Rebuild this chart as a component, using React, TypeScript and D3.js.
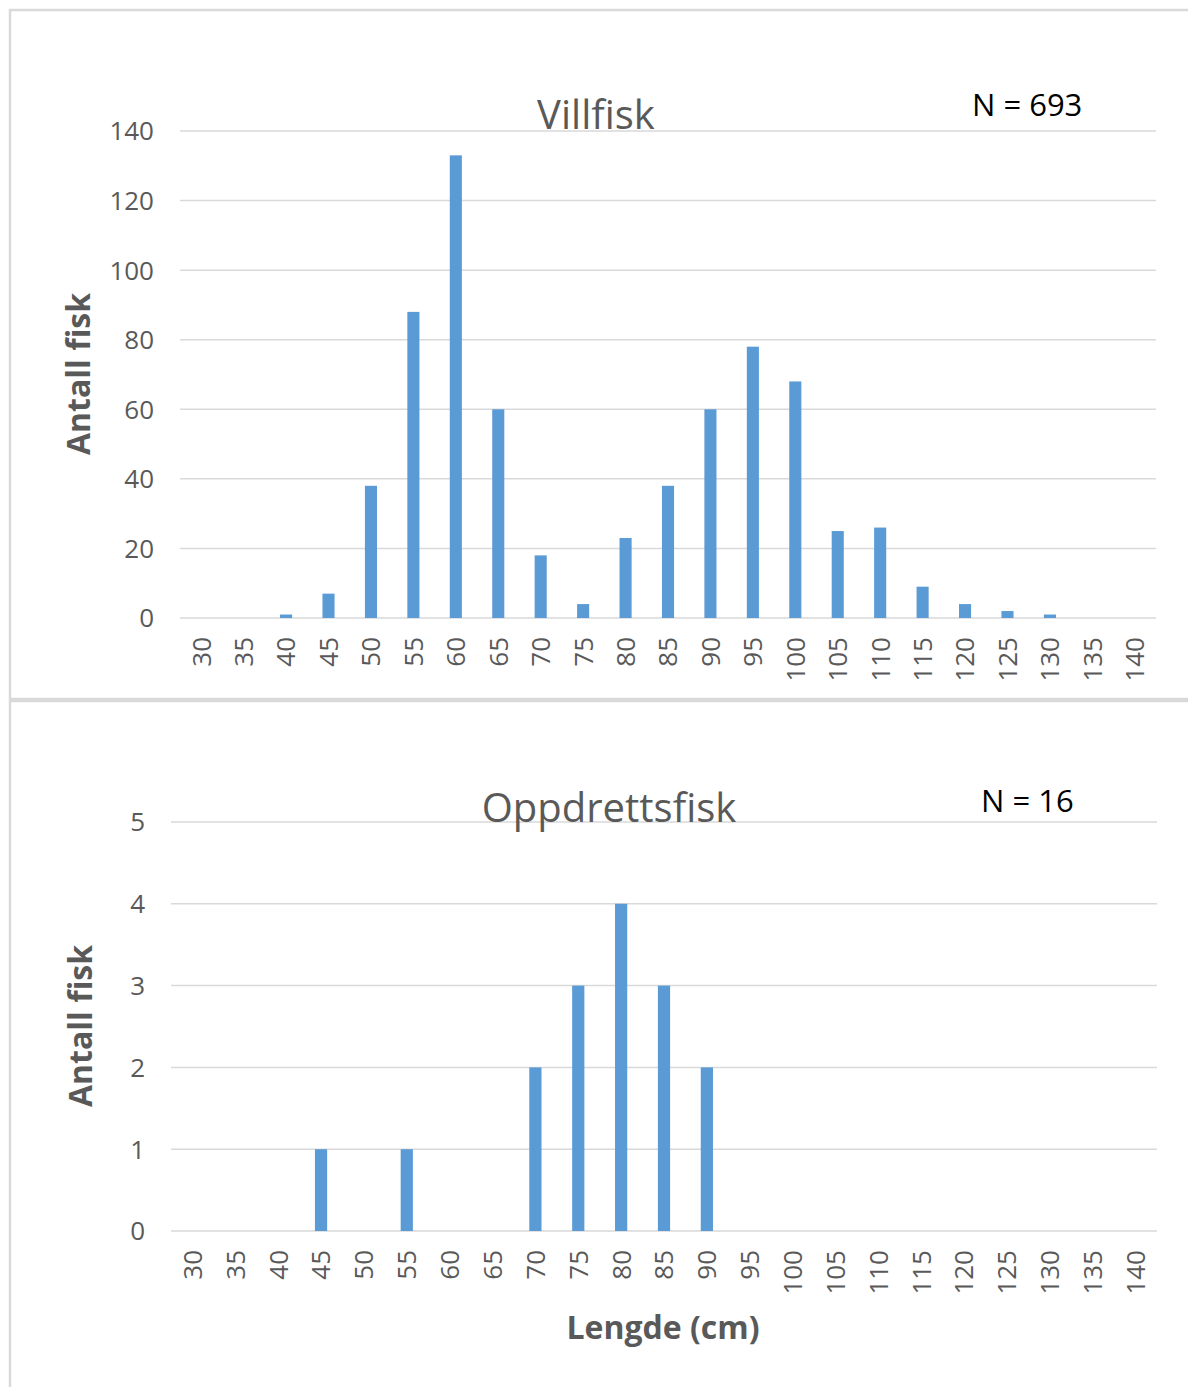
import React from "react";
import * as d3 from "d3";

const lengths = ["30","35","40","45","50","55","60","65","70","75","80","85","90","95","100","105","110","115","120","125","130","135","140"];
const villfiskCounts = [0,0,1,7,38,88,133,60,18,4,23,38,60,78,68,25,26,9,4,2,1,0,0];
const oppdrettCounts = [0,0,0,1,0,1,0,0,2,3,4,3,2,0,0,0,0,0,0,0,0,0,0];
const villfiskTicks = [0,20,40,60,80,100,120,140];
const oppdrettTicks = [0,1,2,3,4,5];

const FONT = "'Open Sans', sans-serif";
const BAR = "#5B9BD5";
const GRID = "#D9D9D9";
const TXT = "#595959";

type PanelProps = {
  values: number[];
  ticks: number[];
  yMax: number;
  x0: number; x1: number; yTop: number; yBottom: number;
  tickRight: number;
  title: string; titleX: number; titleY: number;
  nText: string; nX: number; nY: number;
  yTitleX: number; yTitleY: number;
  xLabelTop: number;
};

function Panel(p: PanelProps) {
  const x = d3.scaleBand<string>().domain(lengths).range([p.x0, p.x1]).paddingInner(0.715).paddingOuter(0.3575);
  const y = d3.scaleLinear().domain([0, p.yMax]).range([p.yBottom, p.yTop]);
  return (
    <g>
      {p.ticks.map((t) => (
        <g key={t}>
          <line x1={p.x0} x2={p.x1} y1={y(t)} y2={y(t)} stroke={GRID} strokeWidth={1.5} />
          <text x={p.tickRight} y={y(t)} dy="0.36em" textAnchor="end" fontSize={26} fill={TXT} fontFamily={FONT}>{t}</text>
        </g>
      ))}
      {lengths.map((c, i) => (
        p.values[i] > 0 ? (
          <rect key={"b" + c} x={x(c)} width={x.bandwidth()} y={y(p.values[i])} height={y(0) - y(p.values[i])} fill={BAR} />
        ) : null
      ))}
      {lengths.map((c) => {
        const cx = (x(c) as number) + x.bandwidth() / 2;
        return (
          <text key={"l" + c} transform={`translate(${cx},${p.xLabelTop}) rotate(-90)`} dy="0.36em" textAnchor="end" fontSize={26} fill={TXT} fontFamily={FONT}>{c}</text>
        );
      })}
      <text x={p.titleX} y={p.titleY} textAnchor="middle" fontSize={40} fill={TXT} fontFamily={FONT}>{p.title}</text>
      <text x={p.nX} y={p.nY} textAnchor="start" fontSize={31} fill="#000" fontFamily={FONT}>{p.nText}</text>
      <text transform={`translate(${p.yTitleX},${p.yTitleY}) rotate(-90)`} textAnchor="middle" fontSize={32} fontWeight="bold" fill={TXT} fontFamily={FONT}>Antall fisk</text>
    </g>
  );
}

export default function App() {
  return (
    <svg width={1188} height={1387} style={{ position: "absolute", left: 0, top: 0, background: "#fff" }}>
      <rect x={0} y={0} width={1188} height={1387} fill="#fff" />
      <rect x={10} y={10} width={1200} height={689} fill="none" stroke={GRID} strokeWidth={2.5} />
      <rect x={10} y={701} width={1200} height={720} fill="none" stroke={GRID} strokeWidth={2.5} />
      <Panel values={villfiskCounts} ticks={villfiskTicks} yMax={140}
        x0={180} x1={1156} yTop={131} yBottom={618} tickRight={154}
        title="Villfisk" titleX={596} titleY={129}
        nText="N = 693" nX={972} nY={116}
        yTitleX={90} yTitleY={374} xLabelTop={637} />
      <Panel values={oppdrettCounts} ticks={oppdrettTicks} yMax={5}
        x0={171} x1={1157} yTop={822} yBottom={1231} tickRight={145}
        title="Oppdrettsfisk" titleX={609} titleY={822}
        nText="N = 16" nX={981} nY={812}
        yTitleX={92} yTitleY={1026} xLabelTop={1250} />
      <text x={663} y={1339} textAnchor="middle" fontSize={32} fontWeight="bold" fill={TXT} fontFamily={FONT}>Lengde (cm)</text>
    </svg>
  );
}
